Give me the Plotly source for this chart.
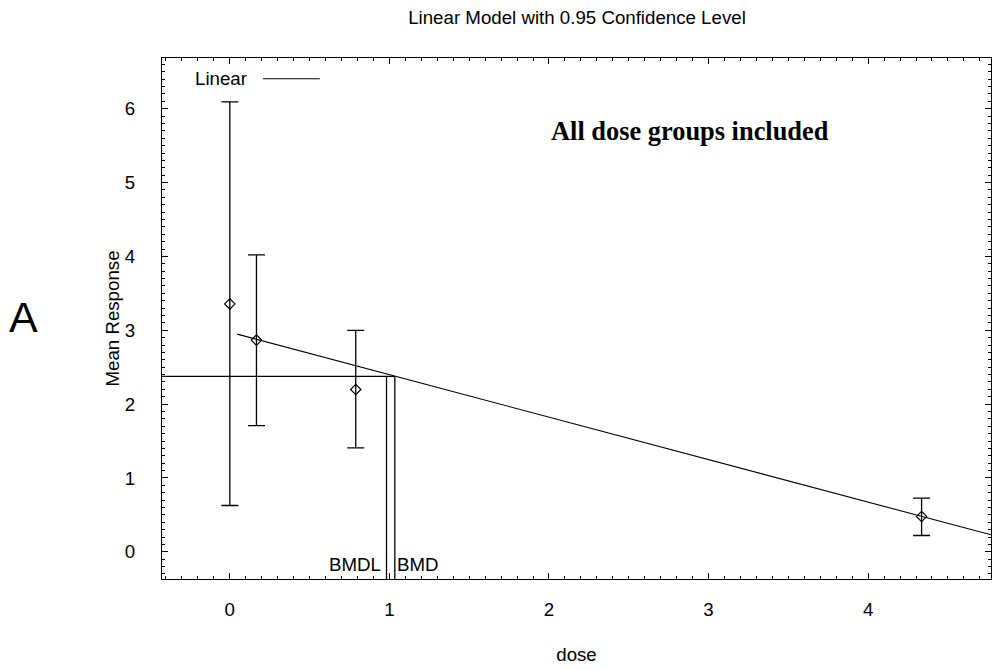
import plotly.graph_objects as go

# ---- data ----
dose = [0.0, 0.167, 0.789, 4.335]
mean_resp = [3.357, 2.867, 2.198, 0.479]
upper_ci = [6.094, 4.02, 3.0, 0.726]
lower_ci = [0.627, 1.71, 1.408, 0.221]

fit_dose = [0.046, 4.77]
fit_resp = [2.948, 0.23]

bmr_level = 2.376
bmdl = 0.982
bmd = 1.034

x_range = [-0.425, 4.77]
y_range = [-0.368, 6.687]

x_ticks = [0, 1, 2, 3, 4]
y_ticks = [0, 1, 2, 3, 4, 5, 6]

FONT = "Liberation Sans, Arial, sans-serif"
FS = 18.7

# plot area targeted at page x 162..992, y 58..585
PL, PT, PW, PH = 162, 58, 830, 527
FIG_W, FIG_H = 1000, 670


def px(x):
    return (x - PL) / PW


def py(y):
    return (PT + PH - y) / PH


fig = go.Figure()

# data points with confidence bars
fig.add_trace(go.Scatter(
    x=dose, y=mean_resp, mode="markers",
    marker=dict(symbol="diamond-open", size=8, color="black", line=dict(width=1.2, color="black")),
    error_y=dict(type="data", symmetric=False,
                 array=[u - m for u, m in zip(upper_ci, mean_resp)],
                 arrayminus=[m - l for m, l in zip(mean_resp, lower_ci)],
                 color="black", thickness=1.3, width=8.5),
    showlegend=False, hoverinfo="skip"))

# fitted linear model
fig.add_trace(go.Scatter(x=fit_dose, y=fit_resp, mode="lines",
                         line=dict(color="black", width=1.1), name="Linear", showlegend=False))

# BMR / BMD / BMDL lines
fig.add_trace(go.Scatter(x=[x_range[0], bmd], y=[bmr_level, bmr_level], mode="lines",
                         line=dict(color="black", width=1.3), showlegend=False, hoverinfo="skip"))
fig.add_trace(go.Scatter(x=[bmdl, bmdl], y=[bmr_level, y_range[0]], mode="lines",
                         line=dict(color="black", width=1.3), showlegend=False, hoverinfo="skip"))
fig.add_trace(go.Scatter(x=[bmd, bmd], y=[bmr_level, y_range[0]], mode="lines",
                         line=dict(color="black", width=1.3), showlegend=False, hoverinfo="skip"))

axis_common = dict(
    showline=True, linecolor="black", linewidth=1, mirror="allticks",
    ticks="inside", ticklen=6, tickwidth=1, tickcolor="black",
    showgrid=False, zeroline=False,
    tickfont=dict(family=FONT, size=FS, color="black"),
    minor=dict(dtick=0.1, ticks="inside", ticklen=3, tickwidth=1, tickcolor="black", showgrid=False),
)

fig.update_xaxes(range=x_range, tickvals=x_ticks, ticklabelstandoff=14,
                 title=dict(text="dose", font=dict(family=FONT, size=FS, color="black"), standoff=28),
                 **axis_common)
fig.update_yaxes(range=y_range, tickvals=y_ticks, ticklabelstandoff=22,
                 title=dict(text="Mean Response", font=dict(family=FONT, size=FS, color="black"), standoff=0),
                 **axis_common)

annotations = [
    dict(text="BMDL", x=bmdl, y=-0.17, xref="x", yref="y", xanchor="right", yanchor="middle",
         showarrow=False, xshift=-4, font=dict(family=FONT, size=FS, color="black")),
    dict(text="BMD", x=bmd, y=-0.17, xref="x", yref="y", xanchor="left", yanchor="middle",
         showarrow=False, xshift=0, font=dict(family=FONT, size=FS, color="black")),
    dict(text="<b>All dose groups included</b>", x=px(691), y=py(132), xref="paper", yref="paper",
         xanchor="center", yanchor="middle", showarrow=False,
         font=dict(family="Liberation Serif, Times New Roman, serif", size=26.4, color="black")),
    dict(text="Linear", x=px(193), y=py(79), xref="paper", yref="paper",
         xanchor="left", yanchor="middle", showarrow=False,
         font=dict(family=FONT, size=FS, color="black")),
    dict(text="A", x=px(23), y=py(320), xref="paper", yref="paper",
         xanchor="center", yanchor="middle", showarrow=False,
         font=dict(family=FONT, size=43, color="black")),
]

fig.update_layout(
    width=FIG_W, height=FIG_H,
    margin=dict(l=PL, r=FIG_W - PL - PW, t=PT, b=FIG_H - PT - PH),
    paper_bgcolor="white", plot_bgcolor="white",
    title=dict(text="Linear Model with 0.95 Confidence Level", x=577 / FIG_W, xanchor="center",
               y=1 - 17 / FIG_H, yanchor="middle", yref="container",
               font=dict(family=FONT, size=FS, color="black")),
    annotations=annotations,
    shapes=[dict(type="line", xref="paper", yref="paper",
                 x0=px(263), x1=px(320), y0=py(79), y1=py(79),
                 line=dict(color="black", width=1.1))],
    showlegend=False,
)

fig.write_html("out.html", config={"displayModeBar": False},
               post_script="document.body.style.margin='0';document.body.style.overflow='hidden';")
